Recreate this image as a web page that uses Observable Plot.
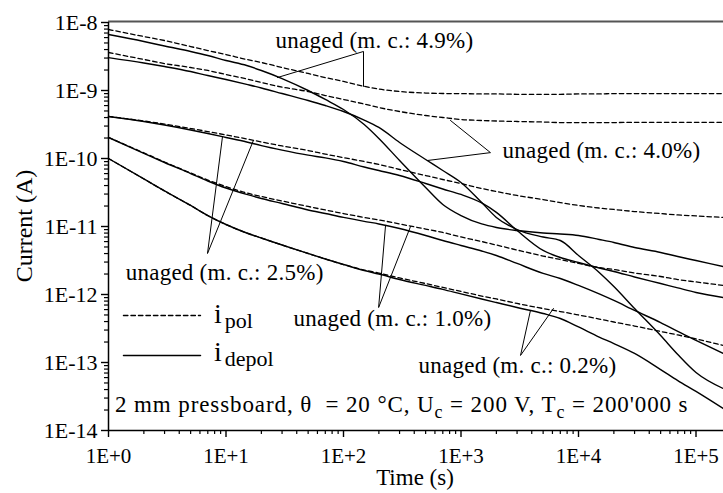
<!DOCTYPE html>
<html><head><meta charset="utf-8">
<script src="https://cdn.jsdelivr.net/npm/d3@7"></script>
<script src="https://cdn.jsdelivr.net/npm/@observablehq/plot@0.6"></script>
<style>
html,body{margin:0;padding:0;background:#fff;overflow:hidden}
#chart{width:723px;height:493px}
</style></head><body><div id="chart"></div>
<script>
// time grid (s)
const times = [1,2,3,5,7,10,15,20,30,50,70,100,150,200,300,500,700,1000,1500,2000,3000,5000,7000,10000,15000,20000,30000,50000,70000,100000,170000];
// currents (A)
const pol49 = [7.89e-9,6.22e-9,5.43e-9,4.43e-9,3.87e-9,3.38e-9,2.86e-9,2.58e-9,2.18e-9,1.78e-9,1.55e-9,1.36e-9,1.15e-9,1.05e-9,9.67e-10,9.18e-10,9.03e-10,9.0e-10,8.9e-10,8.9e-10,8.8e-10,8.8e-10,8.8e-10,8.9e-10,8.9e-10,9.0e-10,9.0e-10,9.0e-10,9.0e-10,9.0e-10,9.0e-10];
const depol49 = [6.66e-9,5.26e-9,4.51e-9,3.75e-9,3.27e-9,2.76e-9,2.33e-9,1.97e-9,1.50e-9,1.0e-9,7.38e-10,5.26e-10,3.16e-10,1.97e-10,9.35e-11,3.75e-11,2.11e-11,1.45e-11,1.09e-11,9.67e-12,8.73e-12,8.02e-12,7.76e-12,7.38e-12,6.44e-12,5.82e-12,4.91e-12,4.15e-12,3.62e-12,3.16e-12,2.58e-12];
const pol40 = [3.62e-9,2.86e-9,2.49e-9,2.18e-9,1.97e-9,1.72e-9,1.48e-9,1.31e-9,1.12e-9,9.67e-10,8.44e-10,7.38e-10,6.32e-10,5.62e-10,4.91e-10,4.29e-10,4.01e-10,3.75e-10,3.62e-10,3.56e-10,3.50e-10,3.44e-10,3.38e-10,3.38e-10,3.38e-10,3.38e-10,3.4e-10,3.4e-10,3.4e-10,3.4e-10,3.4e-10];
const depol40 = [3.05e-9,2.54e-9,2.25e-9,1.90e-9,1.66e-9,1.45e-9,1.23e-9,1.09e-9,9.03e-10,7.13e-10,6.01e-10,4.91e-10,3.68e-10,2.86e-10,1.72e-10,9.67e-11,6.66e-11,4.44e-11,2.25e-11,1.36e-11,9.03e-12,7.01e-12,6.22e-12,3.75e-12,2.11e-12,1.31e-12,6.22e-13,2.49e-13,1.31e-13,7.13e-14,4.15e-14];
const pol25 = [4.15e-10,3.56e-10,3.21e-10,2.76e-10,2.49e-10,2.22e-10,1.94e-10,1.75e-10,1.53e-10,1.31e-10,1.16e-10,1.03e-10,9.03e-11,8.17e-11,6.89e-11,5.62e-11,4.91e-11,4.29e-11,3.62e-11,3.27e-11,2.86e-11,2.49e-11,2.25e-11,2.04e-11,1.87e-11,1.78e-11,1.66e-11,1.55e-11,1.48e-11,1.43e-11,1.36e-11];
const depol25 = [4.15e-10,3.50e-10,3.11e-10,2.63e-10,2.33e-10,2.04e-10,1.75e-10,1.55e-10,1.33e-10,1.12e-10,1.02e-10,9.03e-11,7.50e-11,6.66e-11,5.62e-11,4.29e-11,3.56e-11,2.96e-11,2.22e-11,1.61e-11,8.73e-12,4.44e-12,3.50e-12,2.96e-12,2.45e-12,2.18e-12,1.81e-12,1.45e-12,1.25e-12,1.07e-12,9.03e-13];
const pol10 = [2.04e-10,1.21e-10,8.89e-11,6.12e-11,4.83e-11,3.87e-11,3.11e-11,2.76e-11,2.37e-11,1.97e-11,1.75e-11,1.55e-11,1.36e-11,1.25e-11,1.09e-11,9.18e-12,8.17e-12,7.01e-12,6.01e-12,5.34e-12,4.51e-12,3.68e-12,3.27e-12,2.86e-12,2.49e-12,2.33e-12,2.07e-12,1.84e-12,1.66e-12,1.53e-12,1.36e-12];
const depol10 = [2.04e-10,1.19e-10,8.73e-11,6.01e-11,4.67e-11,3.68e-11,2.96e-11,2.58e-11,2.18e-11,1.75e-11,1.55e-11,1.36e-11,1.19e-11,1.09e-11,9.35e-12,7.38e-12,6.22e-12,5.26e-12,4.36e-12,3.75e-12,2.86e-12,2.04e-12,1.72e-12,1.36e-12,1.02e-12,8.17e-13,5.82e-13,3.87e-13,2.86e-13,2.11e-13,1.36e-13];
const pol02 = [1.0e-10,5.0e-11,3.33e-11,2.04e-11,1.45e-11,1.07e-11,8.02e-12,6.77e-12,5.34e-12,4.01e-12,3.33e-12,2.76e-12,2.29e-12,2.07e-12,1.75e-12,1.45e-12,1.27e-12,1.11e-12,9.50e-13,8.59e-13,7.38e-13,6.22e-13,5.62e-13,5.0e-13,4.36e-13,3.94e-13,3.44e-13,2.86e-13,2.54e-13,2.22e-13,1.78e-13];
const depol02 = [1.0e-10,5.0e-11,3.33e-11,2.04e-11,1.45e-11,1.07e-11,8.02e-12,6.77e-12,5.34e-12,4.01e-12,3.33e-12,2.76e-12,2.25e-12,2.0e-12,1.66e-12,1.36e-12,1.19e-12,1.02e-12,8.59e-13,7.62e-13,6.44e-13,5.26e-13,4.44e-13,3.33e-13,2.37e-13,1.90e-13,1.36e-13,7.88e-14,5.43e-14,3.75e-14,2.11e-14];

// axis ticks
const xTicks = [1,10,100,1000,10000,100000];
const xTickLabels = ["1E+0","1E+1","1E+2","1E+3","1E+4","1E+5"];
const yTicks = [1e-14,1e-13,1e-12,1e-11,1e-10,1e-9,1e-8];
const yTickLabels = ["1E-14","1E-13","1E-12","1E-11","1E-10","1E-9","1E-8"];
const minorMult = [2,3,4,5,6,7,8,9];

// annotations
const labelTexts = ["unaged (m. c.: 4.9%)","unaged (m. c.: 4.0%)","unaged (m. c.: 2.5%)","unaged (m. c.: 1.0%)","unaged (m. c.: 0.2%)"];
const labelT = [26.4, 2255, 1.40, 37.5, 435];
const labelI = [5.43e-9, 1.31e-10, 2.11e-12, 4.44e-13, 9.03e-14];
const leaderT = [[27.4,148,148],[814,1782,519],[9.34,6.96,17.1],[228,199,372],[3900,3210,6120]];
const leaderI = [[1.55e-9,3.75e-9,1.15e-9],[3.62e-10,1.22e-10,9.35e-11],[2.11e-10,4.01e-12,1.84e-10],[1.04e-11,6.44e-13,1.0e-11],[5.82e-13,1.27e-13,6.22e-13]];
const legendT = [1.34, 6.07];
const legendI = [4.91e-13, 1.27e-13];
const legendTextT = 7.98;
const legendTextI = [3.75e-13, 1.04e-13];
const captionT = 1.147, captionI = 1.84e-14;

const series = [
  {k:"pol", v:pol49},{k:"depol", v:depol49},
  {k:"pol", v:pol40},{k:"depol", v:depol40},
  {k:"pol", v:pol25},{k:"depol", v:depol25},
  {k:"pol", v:pol10},{k:"depol", v:depol10},
  {k:"pol", v:pol02},{k:"depol", v:depol02}
];
const rows = series.flatMap((s, j) => s.v.map((v, i) => ({t: times[i], I: v, z: j, kind: s.k})));
const leaderRows = leaderT.flatMap((ts, j) => ts.map((t, i) => ({t, I: leaderI[j][i], z: j})));
const minorX = xTicks.slice(0, 5).flatMap(d => minorMult.map(m => m * d));
const minorY = yTicks.slice(0, 6).flatMap(d => minorMult.map(m => m * d));

const FONT = "'Liberation Serif','Times New Roman',serif";
const plot = Plot.plot({
  width: 723, height: 493,
  marginLeft: 108, marginRight: 0, marginTop: 22, marginBottom: 63,
  x: {type: "log", domain: [1, 171400]},
  y: {type: "log", domain: [1e-14, 1e-8]},
  style: {fontFamily: FONT, color: "black", background: "white", overflow: "visible"},
  marks: [
    Plot.axisX({ticks: minorX, tickSize: 4, tickFormat: () => "", label: null, strokeWidth: 1.2}),
    Plot.axisX({ticks: xTicks, tickSize: 7, tickFormat: d => xTickLabels[xTicks.indexOf(d)], label: null, fontSize: 21, tickPadding: 11, strokeWidth: 1.4}),
    Plot.axisY({ticks: minorY, tickSize: 4, tickFormat: () => "", label: null, strokeWidth: 1.2}),
    Plot.axisY({ticks: yTicks, tickSize: 7, tickFormat: d => yTickLabels[yTicks.indexOf(d)], label: null, fontSize: 22, tickPadding: 4, strokeWidth: 1.4}),
    Plot.ruleY([1e-8], {stroke: "#555", strokeWidth: 2, dy: -1}),
    Plot.ruleX([1], {stroke: "black", strokeWidth: 1.5}),
    Plot.ruleY([1e-14], {stroke: "black", strokeWidth: 1.5}),
    Plot.line(rows.filter(d => d.kind === "depol"), {x: "t", y: "I", z: "z", curve: "monotone-x", stroke: "black", strokeWidth: 1.4}),
    Plot.line(rows.filter(d => d.kind === "pol"), {x: "t", y: "I", z: "z", curve: "monotone-x", stroke: "black", strokeWidth: 1.3, strokeDasharray: "4.5,3"}),
    Plot.line(leaderRows, {x: "t", y: "I", z: "z", stroke: "black", strokeWidth: 1}),
    Plot.text(labelTexts, {x: (d, i) => labelT[i], y: (d, i) => labelI[i], text: d => d, textAnchor: "start", lineAnchor: "middle", fontSize: 23, fill: "black"}),
    Plot.line([0, 1], {x: i => legendT[i], y: () => legendI[0], stroke: "black", strokeWidth: 1.3, strokeDasharray: "4.5,3"}),
    Plot.line([0, 1], {x: i => legendT[i], y: () => legendI[1], stroke: "black", strokeWidth: 1.4})
  ]
});

const sx = plot.scale("x"), sy = plot.scale("y");
const svg = d3.select(plot);
svg.selectAll("text").filter(function() { return this.textContent.startsWith("unaged"); }).attr("letter-spacing", "0.25px");
function rich(x, y, parts, size, attrs) {
  const t = svg.append("text").attr("x", x).attr("y", y).attr("font-size", size)
    .attr("text-anchor", "start").attr("font-family", FONT).attr("fill", "black").style("white-space", "pre");
  if (attrs) for (const k in attrs) t.attr(k, attrs[k]);
  for (const p of parts) {
    const ts = t.append("tspan").text(p.s);
    if (p.size) ts.attr("font-size", p.size);
    if (p.dy) ts.attr("dy", p.dy);
    if (p.dx) ts.attr("dx", p.dx);
  }
  return t;
}
rich(sx.apply(legendTextT), sy.apply(legendTextI[0]), [{s: "i"}, {s: "pol", size: 22, dy: 5, dx: 3}], 28);
rich(sx.apply(legendTextT), sy.apply(legendTextI[1]), [{s: "i"}, {s: "depol", size: 22, dy: 5, dx: 3}], 28);
rich(sx.apply(captionT), sy.apply(captionI),
  [{s: "2 mm pressboard, θ  = 20 °C, U"}, {s: "c", size: 18, dy: 6}, {s: " = 200 V, T", dy: -6}, {s: "c", size: 18, dy: 6}, {s: " = 200'000 s", dy: -6}],
  23, {"letter-spacing": "0.9px"});
// axis titles
svg.append("text").attr("transform", "translate(24,226) rotate(-90)").attr("text-anchor", "middle")
  .attr("dy", "0.35em").attr("font-size", 24).attr("font-family", FONT).text("Current (A)");
svg.append("text").attr("x", 415).attr("y", 477).attr("text-anchor", "middle").attr("dy", "0.35em")
  .attr("font-size", 23).attr("font-family", FONT).text("Time (s)");
document.getElementById("chart").appendChild(plot);
</script>
</body></html>
